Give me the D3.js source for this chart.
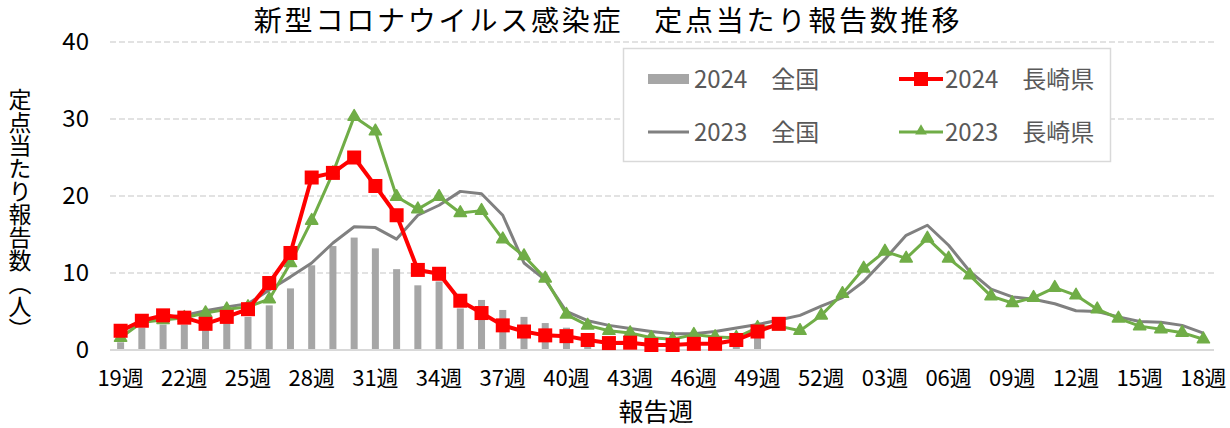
<!DOCTYPE html>
<meta charset="utf-8">
<style>

body {
  margin: 0;
  background: #ffffff;
}

svg {
  font-family: "Noto Sans CJK JP", sans-serif;
  display: block;
}

.grid line {
  stroke: #d9d9d9;
  stroke-width: 1.5;
  stroke-dasharray: 6 3;
}

.legend text {
  fill: #595959;
  font-size: 24px;
}

</style>

<svg width="1230" height="428"></svg>

<script src="https://d3js.org/d3.v7.min.js"></script>
<script>

// weeks 19 .. 52, then 01 .. 18 of the next year
var weeks = [
  "19週","20週","21週","22週","23週","24週","25週","26週","27週","28週",
  "29週","30週","31週","32週","33週","34週","35週","36週","37週","38週",
  "39週","40週","41週","42週","43週","44週","45週","46週","47週","48週",
  "49週","50週","51週","52週","01週","02週","03週","04週","05週","06週",
  "07週","08週","09週","10週","11週","12週","13週","14週","15週","16週",
  "17週","18週"
];

// every third week gets a label
var weekTicks = weeks.filter(function(d, i) { return i % 3 === 0; });

var yTicks = [0, 10, 20, 30, 40];

// 2024 全国 (bars), only up to 49週
var zenkoku2024 = [
  1.0, 2.9, 3.3, 3.3, 2.8, 3.6, 4.3, 5.8, 8.0, 11.0,
  13.5, 14.6, 13.2, 10.5, 8.4, 8.9, 5.4, 6.5, 5.2, 4.3,
  3.5, 2.9, 2.2, 1.6, 1.3, 1.1, 1.0, 1.1, 1.3, 1.8,
  3.4
];

// 2024 長崎県, up to 50週
var nagasaki2024 = [
  2.5, 3.8, 4.5, 4.2, 3.4, 4.3, 5.3, 8.7, 12.6, 22.4,
  23.0, 25.0, 21.3, 17.5, 10.4, 9.9, 6.4, 4.8, 3.2, 2.4,
  1.9, 1.8, 1.3, 0.9, 0.95, 0.65, 0.65, 0.8, 0.8, 1.3,
  2.4, 3.4
];

// 2023 全国 (line)
var zenkoku2023 = [
  2.5, 3.5, 4.2, 4.5, 5.1, 5.6, 6.0, 7.8, 9.5, 11.3,
  13.9, 16.0, 15.9, 14.4, 17.5, 18.8, 20.6, 20.3, 17.5, 11.3,
  9.1, 5.0, 3.8, 3.2, 2.8, 2.4, 2.1, 2.1, 2.4, 2.85,
  3.3, 3.9, 4.5, 5.7, 6.8, 8.9, 11.8, 14.9, 16.2, 13.6,
  10.2, 7.9, 6.9, 6.6, 6.0, 5.1, 5.0, 4.3, 3.7, 3.6,
  3.2, 2.2
];

// 2023 長崎県
var nagasaki2023 = [
  1.6, 3.6, 3.9, 4.2, 4.8, 5.3, 5.6, 6.6, 11.3, 16.8,
  23.0, 30.3, 28.4, 19.9, 18.3, 19.9, 17.8, 18.1, 14.4, 12.2,
  9.3, 4.6, 3.2, 2.5, 2.2, 1.6, 1.4, 2.0, 1.7, 1.6,
  2.9, 3.1, 2.5, 4.5, 7.3, 10.6, 12.8, 11.9, 14.5, 11.9,
  9.7, 7.0, 6.1, 6.8, 8.1, 7.1, 5.3, 4.1, 3.1, 2.7,
  2.25, 1.4
];

var svg = d3.select("svg"),
    margin = {top: 42, right: 16, bottom: 78, left: 110},
    width = +svg.attr("width") - margin.left - margin.right,
    height = +svg.attr("height") - margin.top - margin.bottom;

var x = d3.scaleBand().domain(weeks).range([0, width]).padding(0),
    y = d3.scaleLinear().domain([0, 40]).range([height, 0]);

var g = svg.append("g")
    .attr("transform", "translate(" + margin.left + "," + margin.top + ")");

function cx(i) { return x(weeks[i]) + x.bandwidth() / 2; }

// title (a bit of letter spacing so it spreads like the original)
svg.append("text")
    .attr("x", 608)
    .attr("y", 31)
    .attr("text-anchor", "middle")
    .attr("font-size", 28)
    .attr("letter-spacing", 2.8)
    .attr("fill", "#000")
    .text("新型コロナウイルス感染症　定点当たり報告数推移");

// dashed gridlines (not at zero)
g.append("g")
    .attr("class", "grid")
  .selectAll("line")
  .data(yTicks.filter(function(d) { return d > 0; }))
  .enter().append("line")
    .attr("x1", 0)
    .attr("x2", width)
    .attr("y1", function(d) { return y(d); })
    .attr("y2", function(d) { return y(d); });

// y axis, labels only
var yAxis = g.append("g")
    .call(d3.axisLeft(y).tickValues(yTicks).tickSize(0).tickPadding(21));
yAxis.select(".domain").remove();
yAxis.selectAll("text")
    .attr("font-size", 24)
    .attr("font-family", "Noto Sans CJK JP")
    .attr("fill", "#000");

// y axis title, vertical
svg.append("text")
    .attr("x", 20)
    .attr("y", 88)
    .attr("font-size", 23)
    .attr("fill", "#000")
    .style("writing-mode", "vertical-rl")
    .text("定点当たり報告数（人）");

// bars: 2024 全国
var barW = 7;
g.append("g")
  .selectAll("rect")
  .data(zenkoku2024)
  .enter().append("rect")
    .attr("x", function(d, i) { return cx(i) - barW / 2; })
    .attr("y", function(d) { return y(d); })
    .attr("width", barW)
    .attr("height", function(d) { return height - y(d); })
    .attr("fill", "#a6a6a6");

// x axis baseline
g.append("line")
    .attr("x1", 0)
    .attr("x2", width)
    .attr("y1", height)
    .attr("y2", height)
    .attr("stroke", "#d9d9d9")
    .attr("stroke-width", 2);

var xAxis = g.append("g")
    .attr("transform", "translate(0," + height + ")")
    .call(d3.axisBottom(x).tickValues(weekTicks).tickSize(0).tickPadding(20));
xAxis.select(".domain").remove();
xAxis.selectAll("text")
    .attr("font-size", 22)
    .attr("font-family", "Noto Sans CJK JP")
    .attr("fill", "#000");

// x axis title
svg.append("text")
    .attr("x", 656)
    .attr("y", 421)
    .attr("text-anchor", "middle")
    .attr("font-size", 25)
    .attr("fill", "#000")
    .text("報告週");

var line = d3.line()
    .x(function(d, i) { return cx(i); })
    .y(function(d) { return y(d); });

// 2023 全国 line
g.append("path")
    .datum(zenkoku2023)
    .attr("fill", "none")
    .attr("stroke", "#808080")
    .attr("stroke-width", 3)
    .attr("stroke-linejoin", "round")
    .attr("d", line);

// 2023 長崎県 line with triangles
var tri = d3.symbol().type(d3.symbolTriangle).size(65);

g.append("path")
    .datum(nagasaki2023)
    .attr("fill", "none")
    .attr("stroke", "#70ad47")
    .attr("stroke-width", 3)
    .attr("stroke-linejoin", "round")
    .attr("d", line);

g.append("g")
  .selectAll("path")
  .data(nagasaki2023)
  .enter().append("path")
    .attr("transform", function(d, i) { return "translate(" + cx(i) + "," + y(d) + ")"; })
    .attr("d", tri)
    .attr("fill", "#70ad47")
    .attr("stroke", "#70ad47")
    .attr("stroke-width", 1.5)
    .attr("stroke-linejoin", "round");

// 2024 長崎県 line with squares
var sq = 14;
g.append("path")
    .datum(nagasaki2024)
    .attr("fill", "none")
    .attr("stroke", "#ff0000")
    .attr("stroke-width", 4)
    .attr("stroke-linejoin", "round")
    .attr("d", line);

g.append("g")
  .selectAll("rect")
  .data(nagasaki2024)
  .enter().append("rect")
    .attr("x", function(d, i) { return cx(i) - sq / 2; })
    .attr("y", function(d) { return y(d) - sq / 2; })
    .attr("width", sq)
    .attr("height", sq)
    .attr("fill", "#ff0000");

// legend box
var legend = svg.append("g").attr("class", "legend");

legend.append("rect")
    .attr("x", 623.5)
    .attr("y", 48.5)
    .attr("width", 487)
    .attr("height", 113)
    .attr("fill", "#ffffff")
    .attr("stroke", "#d9d9d9")
    .attr("stroke-width", 1.5);

// row 1
legend.append("rect")
    .attr("x", 648).attr("y", 74)
    .attr("width", 41).attr("height", 10)
    .attr("fill", "#a6a6a6");
legend.append("text").attr("x", 694).attr("y", 88).text("2024　全国");

legend.append("line")
    .attr("x1", 899).attr("x2", 943).attr("y1", 79).attr("y2", 79)
    .attr("stroke", "#ff0000").attr("stroke-width", 4);
legend.append("rect")
    .attr("x", 914).attr("y", 72).attr("width", 14).attr("height", 14)
    .attr("fill", "#ff0000");
legend.append("text").attr("x", 945).attr("y", 88).text("2024　長崎県");

// row 2
legend.append("line")
    .attr("x1", 648).attr("x2", 689).attr("y1", 132).attr("y2", 132)
    .attr("stroke", "#808080").attr("stroke-width", 3);
legend.append("text").attr("x", 694).attr("y", 141).text("2023　全国");

legend.append("line")
    .attr("x1", 899).attr("x2", 943).attr("y1", 132).attr("y2", 132)
    .attr("stroke", "#70ad47").attr("stroke-width", 3);
legend.append("path")
    .attr("transform", "translate(921,131)")
    .attr("d", d3.symbol().type(d3.symbolTriangle).size(60))
    .attr("fill", "#70ad47");
legend.append("text").attr("x", 945).attr("y", 141).text("2023　長崎県");

</script>
